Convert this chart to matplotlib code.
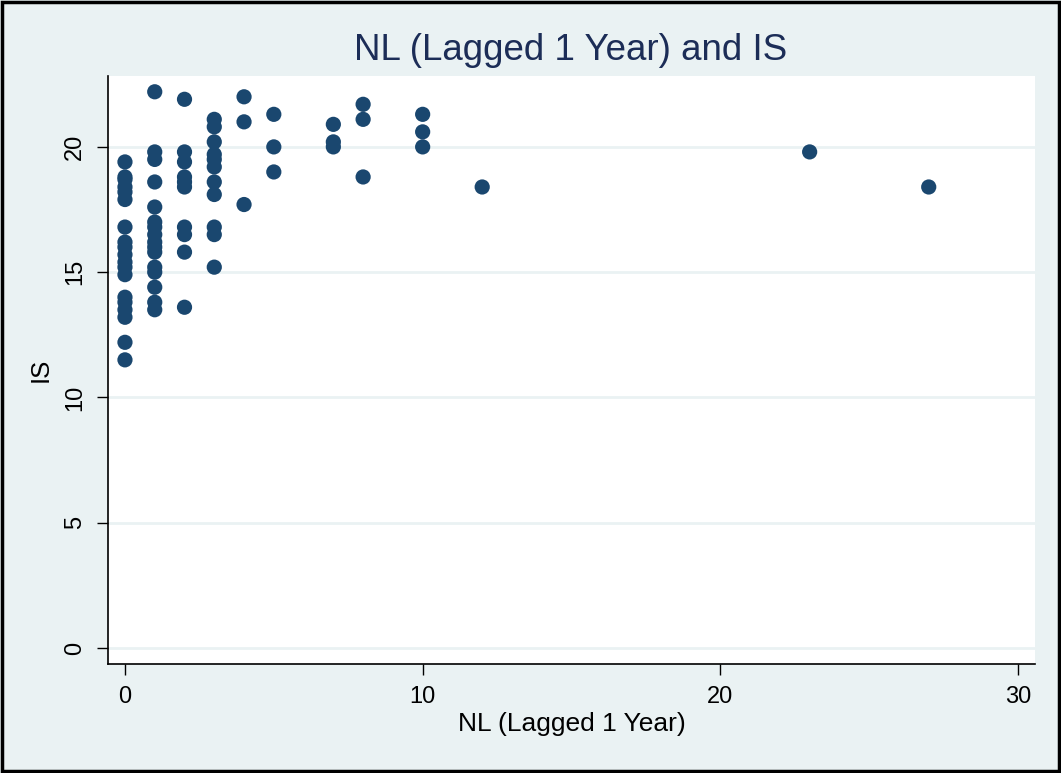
import matplotlib
matplotlib.use("Agg")
import matplotlib.pyplot as plt
from matplotlib.patches import Rectangle

# NL lagged one year (x) against IS (y)
nl = ([0] * 19 + [1] * 16 + [2] * 10 + [3] * 11 + [4] * 3 + [5] * 3
      + [7] * 3 + [8] * 3 + [10] * 3 + [12, 23, 27])
is_ = [19.4, 18.8, 18.7, 18.4, 18.2, 17.9, 16.8, 16.2, 16.0, 15.7, 15.4, 15.2, 14.9,
       14.0, 13.8, 13.5, 13.2, 12.2, 11.5,
       22.2, 19.8, 19.5, 18.6, 17.6, 17.0, 16.8, 16.5, 16.2, 16.0, 15.8, 15.2, 15.0,
       14.4, 13.8, 13.5,
       21.9, 19.8, 19.4, 18.8, 18.6, 18.4, 16.8, 16.5, 15.8, 13.6,
       21.1, 20.8, 20.2, 19.7, 19.5, 19.2, 18.6, 18.1, 16.8, 16.5, 15.2,
       22.0, 21.0, 17.7,
       21.3, 20.0, 19.0,
       20.9, 20.2, 20.0,
       21.7, 21.1, 18.8,
       21.3, 20.6, 20.0,
       18.4, 19.8, 18.4]
x_ticks = [0, 10, 20, 30]
y_ticks = [0, 5, 10, 15, 20]

BG = "#eaf2f3"
NAVY = "#1a476f"
plt.rcParams["font.family"] = ["Liberation Sans", "DejaVu Sans"]

fig = plt.figure(figsize=(10.61, 7.73), dpi=100, facecolor=BG)
ax = fig.add_axes([108 / 1061, 109 / 773, 927 / 1061, 588 / 773])
ax.set_facecolor("white")

ax.set_yticks(y_ticks)
ax.grid(axis="y", color=BG, lw=2, zorder=0)
ax.scatter(nl, is_, s=120, color=NAVY, edgecolors="none", zorder=3)

ax.set_xlim(-0.57, 30.57)
ax.set_ylim(-0.64, 22.83)
ax.set_xticks(x_ticks)
ax.tick_params(axis="both", direction="out", length=8, width=1, labelsize=17, pad=8)
for lab in ax.get_yticklabels():
    lab.set_rotation(90)
    lab.set_va("center")
for s in ("top", "right"):
    ax.spines[s].set_visible(False)
for s in ("left", "bottom"):
    ax.spines[s].set_linewidth(1.2)

ax.set_xlabel("NL (Lagged 1 Year)", fontsize=19, labelpad=3)
ax.set_ylabel("IS", fontsize=18.5, labelpad=8)
fig.text(571 / 1061, 1 - 51 / 773, "NL (Lagged 1 Year) and IS", fontsize=26.5,
         color="#1c2d57", ha="center", va="center")

fig.patches.append(Rectangle((0.002, 0.003), 0.996, 0.994, transform=fig.transFigure,
                             fill=False, edgecolor="black", lw=2.5))
fig.savefig("out.png", dpi=100, facecolor=BG)
